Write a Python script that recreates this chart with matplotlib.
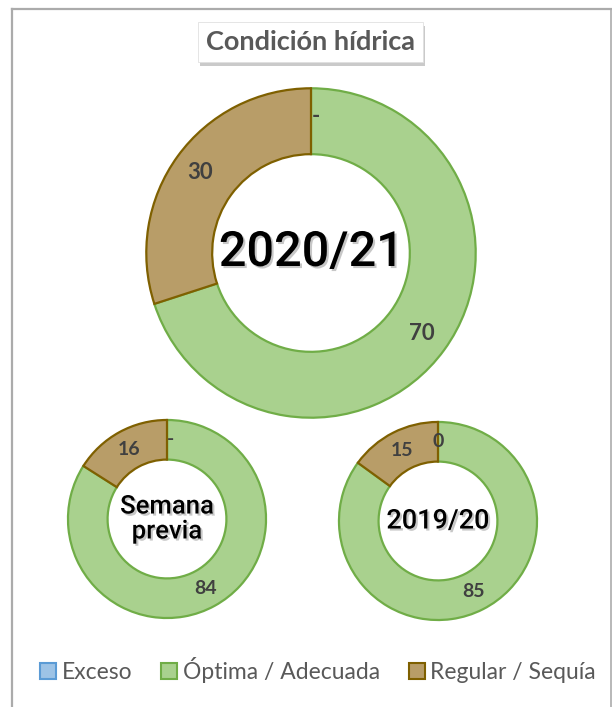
import matplotlib
matplotlib.use("Agg")
import matplotlib.pyplot as plt
import matplotlib.patheffects as pe
from matplotlib.patches import Patch, Rectangle
from matplotlib.lines import Line2D
import numpy as np

# ---- data ----
categories = ["Exceso", "Óptima / Adecuada", "Regular / Sequía"]
vals_2020 = [0, 70, 30]
vals_prev = [0, 84, 16]
vals_2019 = [0, 85, 15]
labels_2020 = ["-", "70", "30"]
labels_prev = ["-", "84", "16"]
labels_2019 = ["0", "85", "15"]
center_2020 = "2020/21"
center_prev = "Semana\nprevia"
center_2019 = "2019/20"
title = "Condición hídrica"

fills = ["#9DC3E6", "#A9D18E", "#B89D68"]
edges = ["#5B9BD5", "#70AD47", "#7F6000"]

W, H = 612, 707
fig = plt.figure(figsize=(W / 100, H / 100), dpi=100)
fig.patch.set_facecolor("white")

LBL_FONT = ["Lato", "DejaVu Sans"]
CTR_FONT = ["Roboto", "DejaVu Sans"]

def px_axes(cx, cy, r):
    return fig.add_axes([(cx - r) / W, (H - cy - r) / H, 2 * r / W, 2 * r / H])

shadow = [pe.SimplePatchShadow(offset=(1.5, -1.5), shadow_rgbFace="#909090", alpha=0.5), pe.Normal()]

def donut(cx, cy, r, vals, labels, ctext, csize, lsize, zero_dx, lr):
    ax = px_axes(cx, cy, r)
    wedges, _ = ax.pie(vals, startangle=90, counterclock=False, radius=1.0,
                       colors=fills, wedgeprops=dict(width=0.4, linewidth=1.6))
    for w, ec, v in zip(wedges, edges, vals):
        w.set_edgecolor(ec)
        if v == 0:
            w.set_linewidth(0)
    for w, lab, v in zip(wedges, labels, vals):
        ang = np.deg2rad((w.theta1 + w.theta2) / 2)
        x, y = lr * np.cos(ang), lr * np.sin(ang)
        if v == 0:
            x += zero_dx
        ax.text(x, y, lab, ha="center", va="center", fontsize=lsize,
                fontweight="bold", color="#404040", family=LBL_FONT)
    ax.text(0, 0, ctext, ha="center", va="center", fontsize=csize, fontweight="medium",
            color="black", family=CTR_FONT, linespacing=1.05, path_effects=shadow)
    ax.set_xlim(-1.02, 1.02)
    ax.set_ylim(-1.02, 1.02)
    ax.set_aspect("equal")
    ax.axis("off")
    return ax

donut(311, 253, 168, vals_2020, labels_2020, center_2020, 35, 16, 0.03, 0.83)
donut(167, 519, 101, vals_prev, labels_prev, center_prev, 18.5, 14, 0.04, 0.8)
donut(438, 521, 101, vals_2019, labels_2019, center_2019, 19.5, 14, 0.0, 0.8)

# border
bc = "#ABABAB"
fig.add_artist(Line2D([12 / W, 12 / W], [0, 1 - 9 / H], color=bc, lw=1.6, transform=fig.transFigure))
fig.add_artist(Line2D([12 / W, 610.5 / W], [1 - 9 / H, 1 - 9 / H], color=bc, lw=1.6, transform=fig.transFigure))
fig.add_artist(Line2D([610.5 / W, 610.5 / W], [0, 1 - 9 / H], color=bc, lw=1.2, transform=fig.transFigure))

# title box
bx0, by0, bx1, by1 = 198, 22, 423, 62
rect = Rectangle((bx0 / W, 1 - by1 / H), (bx1 - bx0) / W, (by1 - by0) / H,
                 transform=fig.transFigure, facecolor="white", edgecolor="#E0E0E0", lw=0.6,
                 path_effects=[pe.SimplePatchShadow(offset=(1.5, -3), shadow_rgbFace="#8a8a8a", alpha=0.45), pe.Normal()])
fig.add_artist(rect)
fig.text((bx0 + bx1) / 2 / W, 1 - (by0 + by1) / 2 / H, title, ha="center", va="center",
         fontsize=19.5, fontweight="bold", color="#595959", family=LBL_FONT)

# legend
handles = [Patch(facecolor=f, edgecolor=e, lw=1.5) for f, e in zip(fills, edges)]
fig.legend(handles, categories, loc="center", bbox_to_anchor=(318 / W, 1 - 670 / H), ncol=3,
           frameon=False, handlelength=0.7, handleheight=0.7, handletextpad=0.25,
           columnspacing=1.25, prop=dict(family=LBL_FONT, size=16.5), labelcolor="#595959")

fig.savefig("out.png", dpi=100, facecolor="white")
